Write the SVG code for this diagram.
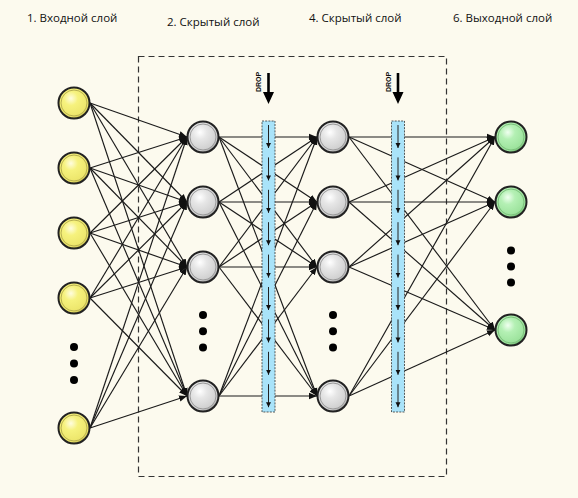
<svg xmlns="http://www.w3.org/2000/svg" width="578" height="498" viewBox="0 0 578 498">
<defs>
<style>
.lbl{font-family:"Open Sans","Liberation Sans","DejaVu Sans",sans-serif;font-size:11.5px;fill:#111}
.drop{font-family:"Liberation Sans",sans-serif;font-size:7px;font-weight:bold;fill:#111}
.c{stroke:#1a1a1a;stroke-width:1.15;fill:none;marker-end:url(#ah)}
.ring{fill:none;stroke:#222;stroke-width:2}
.inner{fill:none;stroke-width:1}
.dot{fill:#000}
.strip{fill:#a9e3f9;stroke:#333;stroke-width:0.8;stroke-dasharray:2 1.2}
.seg{stroke:#222;stroke-width:1;fill:none;marker-end:url(#sa)}
</style>
<marker id="ah" markerUnits="userSpaceOnUse" markerWidth="9" markerHeight="8" refX="8" refY="4" orient="auto"><path d="M0,0.8 L8,4 L0,7.2 Z" fill="#111"/></marker>
<marker id="sa" markerUnits="userSpaceOnUse" markerWidth="6" markerHeight="6" refX="5" refY="3" orient="auto"><path d="M0,0.5 L5,3 L0,5.5 Z" fill="#111"/></marker>
<radialGradient id="gy" cx="0.4" cy="0.35" r="0.65"><stop offset="0" stop-color="#fffde0"/><stop offset="0.35" stop-color="#f6f27e"/><stop offset="0.9" stop-color="#ece56a"/><stop offset="1" stop-color="#c9c054"/></radialGradient>
<radialGradient id="gg" cx="0.4" cy="0.35" r="0.65"><stop offset="0" stop-color="#ffffff"/><stop offset="0.35" stop-color="#e6e6e6"/><stop offset="0.9" stop-color="#cfcfcf"/><stop offset="1" stop-color="#a0a0a0"/></radialGradient>
<radialGradient id="gn" cx="0.4" cy="0.35" r="0.65"><stop offset="0" stop-color="#f0fff0"/><stop offset="0.35" stop-color="#b4f0b4"/><stop offset="0.9" stop-color="#9be29b"/><stop offset="1" stop-color="#6fb46f"/></radialGradient>
</defs>
<rect width="578" height="498" fill="#fcfaee"/>

<g id="labels">
<text class="lbl" x="27" y="22">1. Входной слой</text>
<text class="lbl" x="167" y="26">2. Скрытый слой</text>
<text class="lbl" x="309" y="22">4. Скрытый слой</text>
<text class="lbl" x="453" y="22">6. Выходной слой</text>
</g>

<rect id="box" x="138.5" y="56.5" width="308" height="420" fill="none" stroke="#333" stroke-width="1.2" stroke-dasharray="6 4"/>

<g id="connectors">
<path class="c" d="M90,103 L187,137"/><path class="c" d="M90,103 L187,202"/><path class="c" d="M90,103 L187,267"/><path class="c" d="M90,103 L187,396"/>
<path class="c" d="M90,168 L187,137"/><path class="c" d="M90,168 L187,202"/><path class="c" d="M90,168 L187,267"/><path class="c" d="M90,168 L187,396"/>
<path class="c" d="M90,233 L187,137"/><path class="c" d="M90,233 L187,202"/><path class="c" d="M90,233 L187,267"/><path class="c" d="M90,233 L187,396"/>
<path class="c" d="M90,298 L187,137"/><path class="c" d="M90,298 L187,202"/><path class="c" d="M90,298 L187,267"/><path class="c" d="M90,298 L187,396"/>
<path class="c" d="M90,428 L187,137"/><path class="c" d="M90,428 L187,202"/><path class="c" d="M90,428 L187,267"/><path class="c" d="M90,428 L187,396"/>

<path class="c" d="M219,137 L317,137"/><path class="c" d="M219,137 L317,202"/><path class="c" d="M219,137 L317,267"/><path class="c" d="M219,137 L317,396"/>
<path class="c" d="M219,202 L317,137"/><path class="c" d="M219,202 L317,202"/><path class="c" d="M219,202 L317,267"/><path class="c" d="M219,202 L317,396"/>
<path class="c" d="M219,267 L317,137"/><path class="c" d="M219,267 L317,202"/><path class="c" d="M219,267 L317,267"/><path class="c" d="M219,267 L317,396"/>
<path class="c" d="M219,396 L317,137"/><path class="c" d="M219,396 L317,202"/><path class="c" d="M219,396 L317,267"/><path class="c" d="M219,396 L317,396"/>

<path class="c" d="M349,137 L495,137"/><path class="c" d="M349,137 L495,202"/><path class="c" d="M349,137 L495,330"/>
<path class="c" d="M349,202 L495,137"/><path class="c" d="M349,202 L495,202"/><path class="c" d="M349,202 L495,330"/>
<path class="c" d="M349,267 L495,137"/><path class="c" d="M349,267 L495,202"/><path class="c" d="M349,267 L495,330"/>
<path class="c" d="M349,396 L495,137"/><path class="c" d="M349,396 L495,202"/><path class="c" d="M349,396 L495,330"/>
</g>

<g id="dropout1">
<text class="drop" transform="translate(261,82) rotate(-90)" text-anchor="middle">DROP</text>
<path d="M267.2,73 H269.8 V92 H274 L268.5,104 L263,92 H267.2 Z" fill="#000"/>
<rect class="strip" x="262" y="121" width="13" height="291"/>
<path class="seg" d="M268.5,125 V148"/><path class="seg" d="M268.5,157.4 V180.4"/><path class="seg" d="M268.5,189.8 V212.8"/>
<path class="seg" d="M268.5,222.2 V245.2"/><path class="seg" d="M268.5,254.6 V277.6"/><path class="seg" d="M268.5,287 V310"/>
<path class="seg" d="M268.5,319.4 V342.4"/><path class="seg" d="M268.5,351.8 V374.8"/><path class="seg" d="M268.5,384.2 V407.2"/>
</g>

<g id="dropout2">
<text class="drop" transform="translate(390.5,82) rotate(-90)" text-anchor="middle">DROP</text>
<path d="M396.7,73 H399.3 V92 H403.5 L398,104 L392.5,92 H396.7 Z" fill="#000"/>
<rect class="strip" x="391.5" y="121" width="13" height="291"/>
<path class="seg" d="M398,125 V148"/><path class="seg" d="M398,157.4 V180.4"/><path class="seg" d="M398,189.8 V212.8"/>
<path class="seg" d="M398,222.2 V245.2"/><path class="seg" d="M398,254.6 V277.6"/><path class="seg" d="M398,287 V310"/>
<path class="seg" d="M398,319.4 V342.4"/><path class="seg" d="M398,351.8 V374.8"/><path class="seg" d="M398,384.2 V407.2"/>
</g>

<g id="in1"><circle cx="74" cy="103" r="15.5" fill="url(#gy)"/><circle class="inner" cx="74" cy="103" r="13" stroke="#b8b050"/><circle class="ring" cx="74" cy="103" r="15.5"/></g>
<g id="in2"><circle cx="74" cy="168" r="15.5" fill="url(#gy)"/><circle class="inner" cx="74" cy="168" r="13" stroke="#b8b050"/><circle class="ring" cx="74" cy="168" r="15.5"/></g>
<g id="in3"><circle cx="74" cy="233" r="15.5" fill="url(#gy)"/><circle class="inner" cx="74" cy="233" r="13" stroke="#b8b050"/><circle class="ring" cx="74" cy="233" r="15.5"/></g>
<g id="in4"><circle cx="74" cy="298" r="15.5" fill="url(#gy)"/><circle class="inner" cx="74" cy="298" r="13" stroke="#b8b050"/><circle class="ring" cx="74" cy="298" r="15.5"/></g>
<g id="in-dots"><circle class="dot" cx="74" cy="347" r="4"/><circle class="dot" cx="74" cy="363.5" r="4"/><circle class="dot" cx="74" cy="380" r="4"/></g>
<g id="in5"><circle cx="74" cy="428" r="15.5" fill="url(#gy)"/><circle class="inner" cx="74" cy="428" r="13" stroke="#b8b050"/><circle class="ring" cx="74" cy="428" r="15.5"/></g>

<g id="h2a"><circle cx="203" cy="137" r="15.5" fill="url(#gg)"/><circle class="inner" cx="203" cy="137" r="13" stroke="#999"/><circle class="ring" cx="203" cy="137" r="15.5"/></g>
<g id="h2b"><circle cx="203" cy="202" r="15.5" fill="url(#gg)"/><circle class="inner" cx="203" cy="202" r="13" stroke="#999"/><circle class="ring" cx="203" cy="202" r="15.5"/></g>
<g id="h2c"><circle cx="203" cy="267" r="15.5" fill="url(#gg)"/><circle class="inner" cx="203" cy="267" r="13" stroke="#999"/><circle class="ring" cx="203" cy="267" r="15.5"/></g>
<g id="h2-dots"><circle class="dot" cx="203" cy="315" r="4"/><circle class="dot" cx="203" cy="331.3" r="4"/><circle class="dot" cx="203" cy="347.6" r="4"/></g>
<g id="h2d"><circle cx="203" cy="396" r="15.5" fill="url(#gg)"/><circle class="inner" cx="203" cy="396" r="13" stroke="#999"/><circle class="ring" cx="203" cy="396" r="15.5"/></g>

<g id="h4a"><circle cx="333" cy="137" r="15.5" fill="url(#gg)"/><circle class="inner" cx="333" cy="137" r="13" stroke="#999"/><circle class="ring" cx="333" cy="137" r="15.5"/></g>
<g id="h4b"><circle cx="333" cy="202" r="15.5" fill="url(#gg)"/><circle class="inner" cx="333" cy="202" r="13" stroke="#999"/><circle class="ring" cx="333" cy="202" r="15.5"/></g>
<g id="h4c"><circle cx="333" cy="267" r="15.5" fill="url(#gg)"/><circle class="inner" cx="333" cy="267" r="13" stroke="#999"/><circle class="ring" cx="333" cy="267" r="15.5"/></g>
<g id="h4-dots"><circle class="dot" cx="333" cy="315" r="4"/><circle class="dot" cx="333" cy="331.3" r="4"/><circle class="dot" cx="333" cy="347.6" r="4"/></g>
<g id="h4d"><circle cx="333" cy="396" r="15.5" fill="url(#gg)"/><circle class="inner" cx="333" cy="396" r="13" stroke="#999"/><circle class="ring" cx="333" cy="396" r="15.5"/></g>

<g id="out1"><circle cx="511" cy="137" r="15.5" fill="url(#gn)"/><circle class="inner" cx="511" cy="137" r="13" stroke="#7cc07c"/><circle class="ring" cx="511" cy="137" r="15.5"/></g>
<g id="out2"><circle cx="511" cy="202" r="15.5" fill="url(#gn)"/><circle class="inner" cx="511" cy="202" r="13" stroke="#7cc07c"/><circle class="ring" cx="511" cy="202" r="15.5"/></g>
<g id="out-dots"><circle class="dot" cx="511" cy="250.5" r="4"/><circle class="dot" cx="511" cy="266.5" r="4"/><circle class="dot" cx="511" cy="282.5" r="4"/></g>
<g id="out3"><circle cx="511" cy="330" r="15.5" fill="url(#gn)"/><circle class="inner" cx="511" cy="330" r="13" stroke="#7cc07c"/><circle class="ring" cx="511" cy="330" r="15.5"/></g>
</svg>
